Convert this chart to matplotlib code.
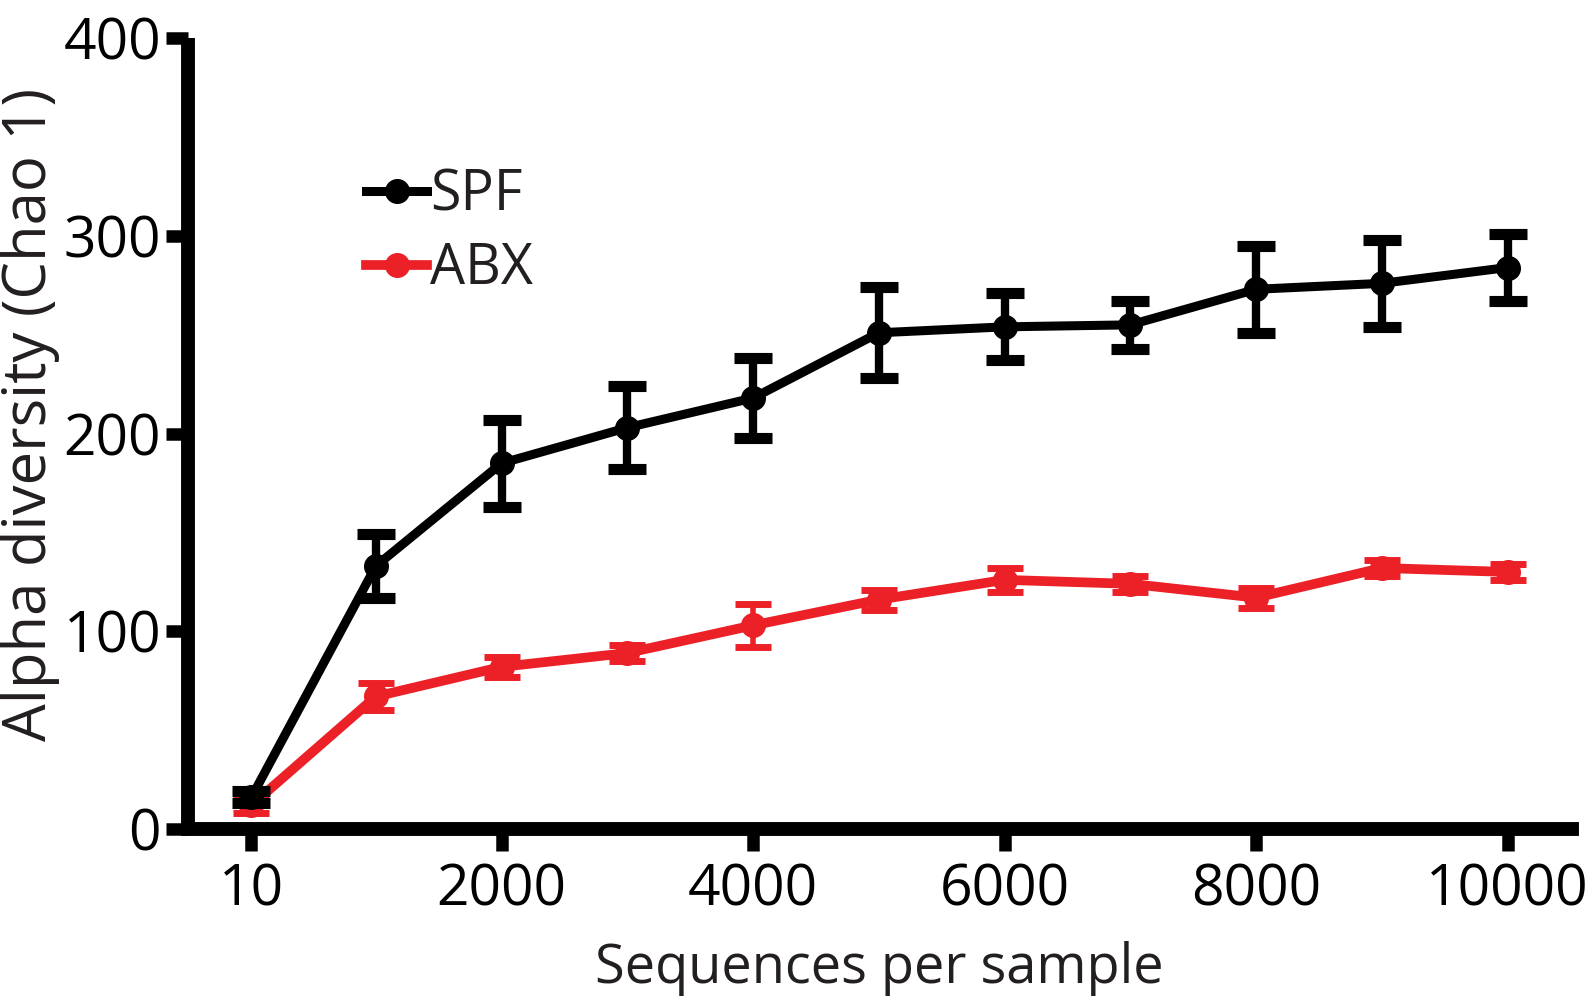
import matplotlib
matplotlib.use("Agg")
import matplotlib.pyplot as plt
from matplotlib.lines import Line2D

seqs = [10, 1000, 2000, 3000, 4000, 5000, 6000, 7000, 8000, 9000, 10000]
spf_mean = [16, 133, 185, 203, 218, 251, 254, 255, 273, 276, 284]
spf_err = [3, 16, 22, 21, 20, 23, 17, 12, 22, 22, 17]
abx_mean = [12, 67, 82, 89, 103, 116, 126, 124, 117, 132, 130]
abx_err = [4, 7, 5, 4, 11, 5, 6, 4, 5, 4, 4]
xticks = [10, 2000, 4000, 6000, 8000, 10000]
xticklabels = ["10", "2000", "4000", "6000", "8000", "10000"]
yticks = [0, 100, 200, 300, 400]

RED = "#ec2027"
TXT = "#231f20"
plt.rcParams["font.family"] = ["Open Sans", "DejaVu Sans"]

fig = plt.figure(figsize=(15.89, 10.06), dpi=100)
ax = fig.add_axes([0.118, 0.176, 0.871, 0.786])

ax.errorbar(seqs, abx_mean, yerr=abx_err, color=RED, lw=7, marker="o", ms=17,
            elinewidth=4, capsize=13, capthick=5, zorder=3)
ax.errorbar(seqs, spf_mean, yerr=spf_err, color="black", lw=6.5, marker="o", ms=17,
            elinewidth=6, capsize=14, capthick=8, zorder=4)

ax.set_xlim(-498, 10508)
ax.set_ylim(0, 400)
ax.set_xticks(xticks)
ax.set_xticklabels(xticklabels)
ax.set_yticks(yticks)

for s in ["top", "right"]:
    ax.spines[s].set_visible(False)
ax.spines["left"].set_linewidth(10)
ax.spines["bottom"].set_linewidth(10)
ax.spines["left"].set_capstyle("butt")
ax.tick_params(axis="both", length=16, width=9, labelsize=41, colors="black")
ax.tick_params(axis="y", pad=3)
ax.tick_params(axis="x", pad=8)

ax.set_xlabel("Sequences per sample", fontsize=39, color=TXT, labelpad=16)
ax.set_ylabel("Alpha diversity (Chao 1)", fontsize=43, color=TXT)
ax.yaxis.set_label_coords(-0.092, 0.524)

handles = [Line2D([], [], color="black", lw=6.5, marker="o", ms=17),
           Line2D([], [], color=RED, lw=7, marker="o", ms=17)]
ax.legend(handles, ["SPF", "ABX"], loc="upper left", bbox_to_anchor=(0.093, 0.9),
          frameon=False, fontsize=40, handlelength=1.1, handletextpad=0.05,
          labelspacing=0.3, labelcolor=TXT)

fig.savefig("out.png", dpi=100)
